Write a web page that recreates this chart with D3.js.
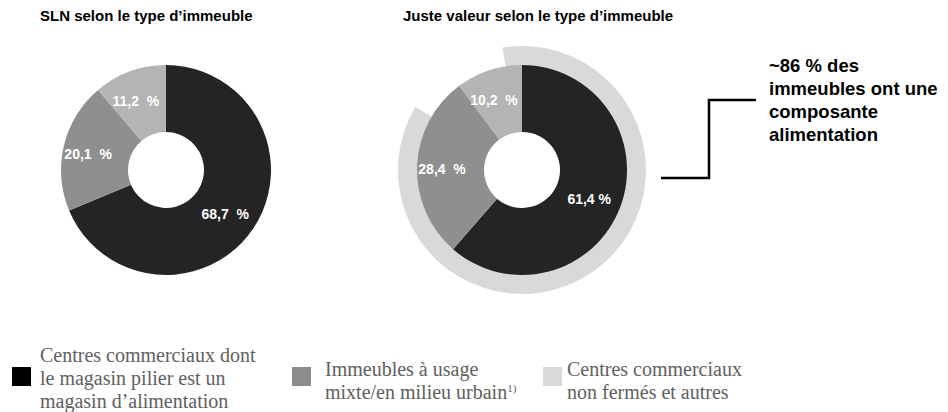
<!DOCTYPE html>
<html>
<head>
<meta charset="utf-8">
<style>
  body { margin: 0; background: #fff; }
  svg { display: block; }
  .title { font-family: "Liberation Sans", Arial, sans-serif; font-weight: bold; font-size: 15px; fill: #000; }
  .pct { font-family: "Liberation Sans", Arial, sans-serif; font-weight: bold; font-size: 14px; fill: #fff; white-space: pre; }
  .callout { font-family: "Liberation Sans", Arial, sans-serif; font-weight: bold; font-size: 18.5px; fill: #000; }
  .legend { font-family: "Liberation Serif", "Times New Roman", serif; font-size: 20px; fill: #606060; }
</style>
</head>
<body>
<svg width="948" height="412"></svg>
<script src="https://d3js.org/d3.v7.min.js"></script>
<script>
// categories, same order in both donuts (clockwise from 12 o'clock)
let categories = ["Centres commerciaux dont le magasin pilier est un magasin d’alimentation",
                  "Immeubles à usage mixte/en milieu urbain",
                  "Centres commerciaux non fermés et autres"];
let slnValues = [68.7, 20.1, 11.2];
let slnLabels = ["68,7  %", "20,1  %", "11,2  %"];
let fairValues = [61.4, 28.4, 10.2];
let fairLabels = ["61,4 %", "28,4  %", "10,2  %"];
let foodShare = 86;   // outer ring, % with a grocery component
let calloutLines = ["~86 % des", "immeubles ont une", "composante", "alimentation"];
let legendLines = [
  ["Centres commerciaux dont", "le magasin pilier est un", "magasin d’alimentation"],
  ["Immeubles à usage", "mixte/en milieu urbain"],
  ["Centres commerciaux", "non fermés et autres"]
];

let pieColors = ["#242424", "#8f8f8f", "#b4b4b4"];
let legendColors = ["#000000", "#8c8c8c", "#d9d9d9"];
let ringColor = "#d9d9d9";

let svg = d3.select("svg");

let pie = d3.pie().sort(null).value(d => d);
let arc = d3.arc().innerRadius(38).outerRadius(105);
let labelArc = d3.arc().innerRadius(76).outerRadius(76);

function donut(cx, cy, values, labels) {
  let g = svg.append("g").attr("transform", `translate(${cx},${cy})`);
  let arcs = pie(values);
  g.selectAll("path.slice")
    .data(arcs)
    .join("path")
    .attr("class", "slice")
    .attr("d", arc)
    .attr("fill", (d, i) => pieColors[i]);
  g.selectAll("text.pct")
    .data(arcs)
    .join("text")
    .attr("class", "pct")
    .attr("x", d => labelArc.centroid(d)[0] - 4)
    .attr("y", d => labelArc.centroid(d)[1] + 2)
    .attr("dy", "0.35em")
    .attr("text-anchor", "middle")
    .text((d, i) => labels[i]);
  return g;
}

// titles
svg.append("text").attr("class", "title").attr("x", 40).attr("y", 21).text("SLN selon le type d’immeuble");
svg.append("text").attr("class", "title").attr("x", 403).attr("y", 21).text("Juste valeur selon le type d’immeuble");

// left donut
donut(166, 170, slnValues, slnLabels);

// right donut with the outer ring behind it
let rcx = 522, rcy = 170;
let ringStart = -9 * Math.PI / 180;
let ring = d3.arc()
  .innerRadius(100)
  .outerRadius(124)
  .startAngle(ringStart)
  .endAngle(ringStart + foodShare / 100 * 2 * Math.PI);
svg.append("path")
  .attr("transform", `translate(${rcx},${rcy})`)
  .attr("d", ring())
  .attr("fill", ringColor);
donut(rcx, rcy, fairValues, fairLabels);

// callout bracket
let bracket = d3.line();
svg.append("path")
  .attr("d", bracket([[661, 178], [709, 178], [709, 100], [756, 100]]))
  .attr("fill", "none")
  .attr("stroke", "#000")
  .attr("stroke-width", 2.5);

svg.append("g").selectAll("text")
  .data(calloutLines)
  .join("text")
  .attr("class", "callout")
  .attr("x", 769)
  .attr("y", (d, i) => 72 + i * 23)
  .text(d => d);

// legend
let legendX = [12, 292, 543];
let legendTextX = [40, 325, 567];
let legendBase = [362, 376, 376];
let legendBox = [367, 367, 367];

legendLines.forEach(function (lines, k) {
  svg.append("rect")
    .attr("x", legendX[k])
    .attr("y", legendBox[k])
    .attr("width", 19)
    .attr("height", 19)
    .attr("fill", legendColors[k]);
  lines.forEach(function (line, j) {
    let t = svg.append("text")
      .attr("class", "legend")
      .attr("x", legendTextX[k])
      .attr("y", legendBase[k] + j * 23)
      .text(line);
    if (k === 1 && j === 1) {
      t.append("tspan").attr("font-size", "11px").attr("dy", "-7").text("1)");
    }
  });
});
</script>
</body>
</html>
